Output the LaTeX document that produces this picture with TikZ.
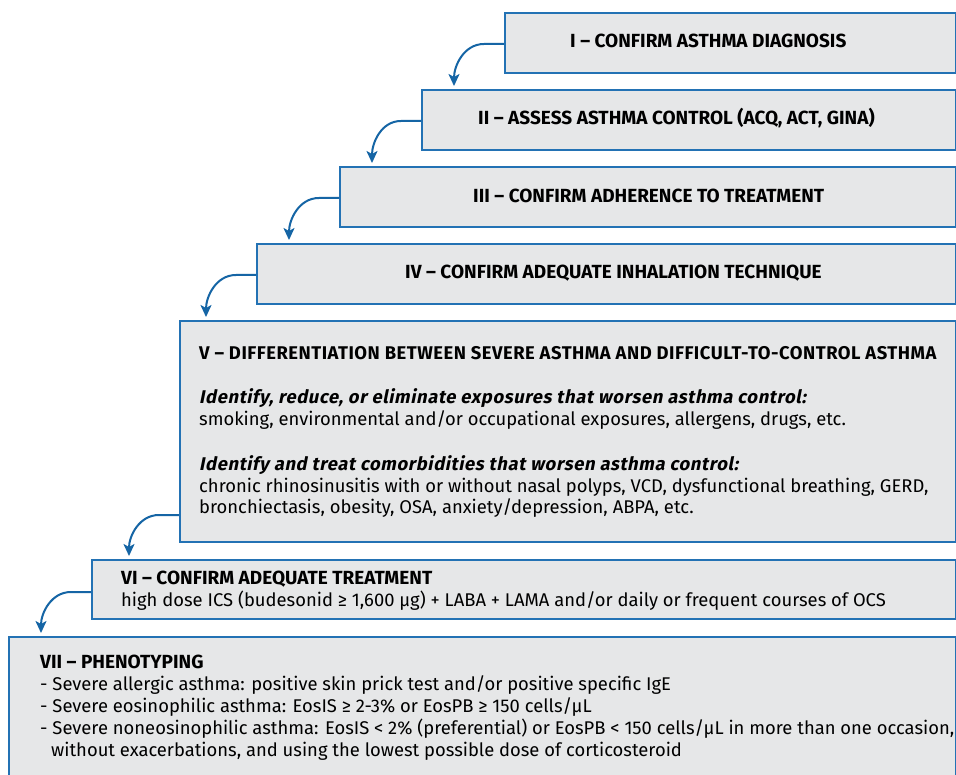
\documentclass[tikz,border=0pt]{standalone}
\usepackage{fontspec}
\setmainfont{Fira Sans}
\usetikzlibrary{arrows.meta,calc}
\definecolor{boxfill}{HTML}{E6E7E8}
\definecolor{boxline}{HTML}{2372B4}
\definecolor{arrcol}{HTML}{1565A5}
\begin{document}
\begin{tikzpicture}[x=1pt,y=-1pt,
  stepbox/.style={draw=boxline, fill=boxfill, line width=2pt, rectangle, inner sep=0pt, anchor=north west},
  ttl/.style={font=\fontsize{19}{22}\selectfont\bfseries, anchor=base west, inner sep=0pt},
  ttlv/.style={font=\fontsize{18.4}{22}\selectfont\bfseries\addfontfeatures{LetterSpace=2.8}, anchor=base west, inner sep=0pt},
  txt/.style={font=\fontsize{18.4}{22}\selectfont, anchor=base west, inner sep=0pt},
  itx/.style={font=\fontsize{18.4}{22}\selectfont\bfseries\addfontfeatures{FakeSlant=0.2,LetterSpace=3.2}, anchor=base west, inner sep=0pt},
  flow/.style={draw=arrcol, line width=2pt, -{Stealth[length=12pt,width=11pt,inset=3pt]}}
]
\useasboundingbox (0,0) rectangle (956,775);
\fill[white] (0,0) rectangle (956,775);
% boxes
\node[stepbox, minimum width=451pt, minimum height=60pt] (b1) at (504,12) {};
\node[stepbox, minimum width=534pt, minimum height=60pt] (b2) at (421,89) {};
\node[stepbox, minimum width=616pt, minimum height=60pt] (b3) at (339,166) {};
\node[stepbox, minimum width=699pt, minimum height=60pt] (b4) at (256,243) {};
\node[stepbox, minimum width=776pt, minimum height=221pt] (b5) at (179,320) {};
\node[stepbox, minimum width=864pt, minimum height=59pt] (b6) at (91,559) {};
\node[stepbox, minimum width=947pt, minimum height=160pt] (b7) at (8,636) {};
% texts
\node[ttl] (t1) at (570,48) {I – CONFIRM ASTHMA DIAGNOSIS};
\node[ttl] (t2) at (478,125) {II – ASSESS ASTHMA CONTROL (ACQ, ACT, GINA)};
\node[ttl] (t3) at (473,203) {III – CONFIRM ADHERENCE TO TREATMENT};
\node[ttl] (t4) at (405,279) {IV – CONFIRM ADEQUATE INHALATION TECHNIQUE};
\node[ttlv] (t5) at (199,360) {V – DIFFERENTIATION BETWEEN SEVERE ASTHMA AND DIFFICULT-TO-CONTROL ASTHMA};
\node[itx] (t5a) at (199,404) {Identify, reduce, or eliminate exposures that worsen asthma control:};
\node[txt] (t5b) at (199,425) {smoking, environmental and/or occupational exposures, allergens, drugs, etc.};
\node[itx] (t5c) at (199,471) {Identify and treat comorbidities that worsen asthma control:};
\node[txt] (t5d) at (199,492) {chronic rhinosinusitis with or without nasal polyps, VCD, dysfunctional breathing, GERD,};
\node[txt] (t5e) at (199,513) {bronchiectasis, obesity, OSA, anxiety/depression, ABPA, etc.};
\node[ttl] (t6) at (121,584) {VI – CONFIRM ADEQUATE TREATMENT};
\node[txt] (t6a) at (121,606) {high dose ICS (budesonid ≥ 1,600 μg) + LABA + LAMA and/or daily or frequent courses of OCS};
\node[ttl] (t7) at (40,668) {VII – PHENOTYPING};
\node[txt] (t7a) at (40,690) {- Severe allergic asthma: positive skin prick test and/or positive specific IgE};
\node[txt] (t7b) at (40,712) {- Severe eosinophilic asthma: EosIS ≥ 2-3\% or EosPB ≥ 150 cells/μL};
\node[txt] (t7c) at (40,734) {- Severe noneosinophilic asthma: EosIS < 2\% (preferential) or EosPB < 150 cells/μL in more than one occasion,};
\node[txt] (t7d) at (51,756) {without exacerbations, and using the lowest possible dose of corticosteroid};
% arrows
\draw[flow] ($(b1.south west)+(0,-30)$) -- ++(-20,0) to[out=180,in=90] ($(b2.north west)+(33,-3)$);
\draw[flow] ($(b2.south west)+(0,-30)$) -- ++(-20,0) to[out=180,in=90] ($(b3.north west)+(33,-3)$);
\draw[flow] ($(b3.south west)+(0,-30)$) -- ++(-20,0) to[out=180,in=90] ($(b4.north west)+(33,-3)$);
\draw[flow] ($(b4.south west)+(0,-30)$) -- ++(-20,0) to[out=180,in=90] ($(b5.north west)+(27,-3)$);
\draw[flow] ($(b5.south west)+(0,-28)$) -- ++(-20,0) to[out=180,in=90] ($(b6.north west)+(38,-3)$);
\draw[flow] ($(b6.south west)+(0,-28)$) -- ++(-20,0) to[out=180,in=90] ($(b7.north west)+(33,-3)$);
\end{tikzpicture}
\end{document}
